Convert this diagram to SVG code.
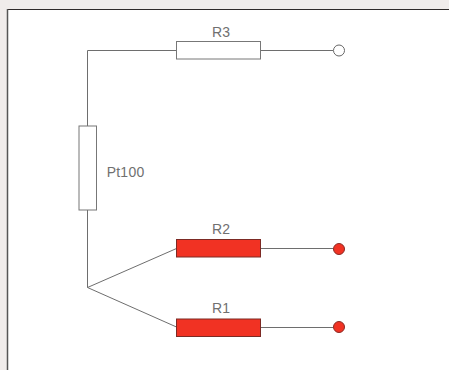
<svg xmlns="http://www.w3.org/2000/svg" width="449" height="370" viewBox="0 0 449 370">
<style>
.w{fill:none;stroke:#6e6e6e;stroke-width:1}
.r{fill:#fff;stroke:#777;stroke-width:1}
.h{fill:#f13223;stroke:#7c2a24;stroke-width:1}
.o{fill:#fff;stroke:#666;stroke-width:1}
.d{fill:#f13223;stroke:#8a2a24;stroke-width:1}
text{font-family:"Liberation Sans",Arial,sans-serif;font-size:14px;fill:#707070}
</style>
<rect width="449" height="370" fill="#f0eceb"/>
<rect x="8" y="10" width="441" height="360" fill="#fff"/>
<path d="M449 9.500H8" stroke="#2f2a2a" fill="none"/>
<path d="M7.500 9V370" stroke="#555" stroke-width="1.500" fill="none"/>
<g id="connectors">
<path class="w" d="M176.500 50.500H87.500V126"/>
<path class="w" d="M87.500 210V287.500L176.500 248.500"/>
<path class="w" d="M87.500 287.500L176.500 327"/>
<path class="w" d="M260.500 50.500H333"/>
<path class="w" d="M260.500 248.500H333"/>
<path class="w" d="M260.500 327.500H333"/>
</g>
<g id="R3"><rect class="r" x="176.500" y="41.500" width="84" height="17.500"/><text x="221" y="37" text-anchor="middle">R3</text></g>
<g id="Pt100"><rect class="r" x="79" y="126" width="17.500" height="84"/><text x="106.700" y="177" textLength="37.500">Pt100</text></g>
<g id="R2"><rect class="h" x="176.500" y="239.500" width="84" height="17.500"/><text x="221" y="234" text-anchor="middle">R2</text></g>
<g id="R1"><rect class="h" x="176.500" y="319" width="84" height="17.500"/><text x="221" y="313" text-anchor="middle">R1</text></g>
<g id="T3"><circle class="o" cx="339" cy="50.500" r="5.500"/></g>
<g id="T2"><circle class="d" cx="339" cy="249" r="5.500"/></g>
<g id="T1"><circle class="d" cx="339" cy="327" r="5.500"/></g>
</svg>
